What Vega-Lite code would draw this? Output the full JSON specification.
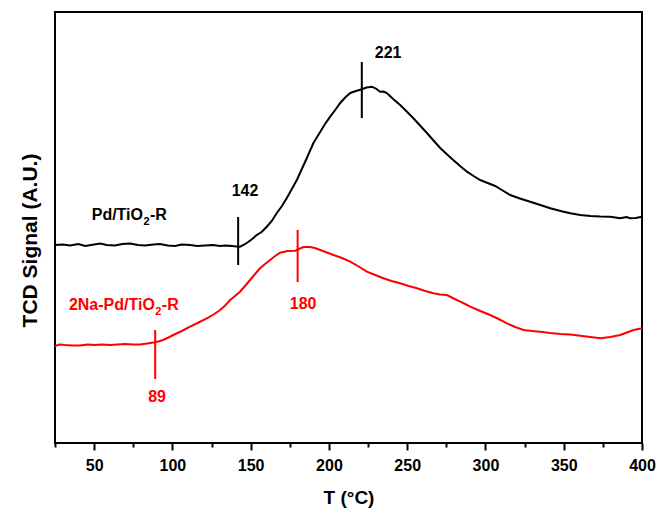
{
  "$schema": "https://vega.github.io/schema/vega-lite/v6.json",
  "width": 587,
  "height": 431,
  "autosize": "none",
  "padding": {"left": 55, "top": 12, "right": 14, "bottom": 67},
  "background": "white",
  "config": {
    "view": {"stroke": "black", "strokeWidth": 2},
    "font": "Liberation Sans",
    "text": {"font": "Liberation Sans", "fontWeight": "bold", "fontSize": 16}
  },
  "datasets": {
    "curves": [
      {"s":"black","T":25,"S":198},{"s":"black","T":30,"S":198.5},{"s":"black","T":34.6,"S":197.5},{"s":"black","T":40,"S":199},{"s":"black","T":44.2,"S":197},{"s":"black","T":50,"S":198.5},{"s":"black","T":53.8,"S":199.5},{"s":"black","T":58,"S":198},{"s":"black","T":63.4,"S":197.5},{"s":"black","T":68,"S":199},{"s":"black","T":72.9,"S":199.5},{"s":"black","T":78,"S":198},{"s":"black","T":82.5,"S":197.5},{"s":"black","T":88,"S":198.5},{"s":"black","T":92.1,"S":199},{"s":"black","T":97,"S":197.5},{"s":"black","T":101.7,"S":197},{"s":"black","T":106,"S":198.5},{"s":"black","T":111.3,"S":198},{"s":"black","T":116,"S":197},{"s":"black","T":120.9,"S":197.5},{"s":"black","T":126,"S":198},{"s":"black","T":130.5,"S":197},{"s":"black","T":134,"S":197.5},{"s":"black","T":138.1,"S":197},{"s":"black","T":141,"S":196.5},{"s":"black","T":143.2,"S":196.3},{"s":"black","T":146,"S":198.5},{"s":"black","T":148.4,"S":201},{"s":"black","T":151,"S":204},{"s":"black","T":153.9,"S":208},{"s":"black","T":157,"S":211},{"s":"black","T":160.3,"S":216.3},{"s":"black","T":163.5,"S":222},{"s":"black","T":166.7,"S":230},{"s":"black","T":170,"S":237},{"s":"black","T":173.1,"S":245},{"s":"black","T":176.3,"S":254},{"s":"black","T":179.5,"S":263},{"s":"black","T":182.7,"S":274},{"s":"black","T":185.9,"S":285},{"s":"black","T":190.1,"S":300},{"s":"black","T":194.4,"S":311},{"s":"black","T":197.5,"S":319},{"s":"black","T":200.8,"S":326.3},{"s":"black","T":204,"S":333},{"s":"black","T":207.2,"S":340},{"s":"black","T":210.4,"S":345.5},{"s":"black","T":213.6,"S":350},{"s":"black","T":217.3,"S":352},{"s":"black","T":221,"S":353.7},{"s":"black","T":224,"S":355.5},{"s":"black","T":227.4,"S":356.3},{"s":"black","T":230,"S":354.5},{"s":"black","T":232.7,"S":351.3},{"s":"black","T":235,"S":351.5},{"s":"black","T":237,"S":350},{"s":"black","T":241,"S":344},{"s":"black","T":245.5,"S":338},{"s":"black","T":249.7,"S":331.5},{"s":"black","T":253.8,"S":325},{"s":"black","T":258.2,"S":317.5},{"s":"black","T":262.6,"S":310},{"s":"black","T":266.8,"S":302.5},{"s":"black","T":271.1,"S":295},{"s":"black","T":275.2,"S":289},{"s":"black","T":279.4,"S":283},{"s":"black","T":283.8,"S":277},{"s":"black","T":288.2,"S":271.3},{"s":"black","T":292.4,"S":267},{"s":"black","T":296.6,"S":263},{"s":"black","T":301.4,"S":260},{"s":"black","T":306.2,"S":257},{"s":"black","T":311,"S":252.5},{"s":"black","T":315.8,"S":248},{"s":"black","T":322,"S":244.5},{"s":"black","T":328.6,"S":241.3},{"s":"black","T":335,"S":238},{"s":"black","T":341.4,"S":234.7},{"s":"black","T":348,"S":232},{"s":"black","T":354.2,"S":229.7},{"s":"black","T":360.6,"S":228},{"s":"black","T":367,"S":227},{"s":"black","T":373.4,"S":226.5},{"s":"black","T":379.7,"S":226.3},{"s":"black","T":386.1,"S":224.7},{"s":"black","T":390,"S":226},{"s":"black","T":392.5,"S":224.7},{"s":"black","T":396,"S":225},{"s":"black","T":400,"S":226.3},
      {"s":"red","T":25,"S":97},{"s":"red","T":28,"S":98.5},{"s":"red","T":31.4,"S":98},{"s":"red","T":36,"S":97.5},{"s":"red","T":41,"S":97.5},{"s":"red","T":46,"S":98.5},{"s":"red","T":50.6,"S":98},{"s":"red","T":55,"S":98.5},{"s":"red","T":60.2,"S":98},{"s":"red","T":65,"S":98.5},{"s":"red","T":69.7,"S":99},{"s":"red","T":75,"S":98.5},{"s":"red","T":79.3,"S":98.5},{"s":"red","T":84,"S":99.5},{"s":"red","T":87.8,"S":100.5},{"s":"red","T":91,"S":101.5},{"s":"red","T":94,"S":103},{"s":"red","T":97.5,"S":105.5},{"s":"red","T":100.6,"S":108},{"s":"red","T":106,"S":112},{"s":"red","T":111.3,"S":116.3},{"s":"red","T":116.7,"S":120.5},{"s":"red","T":122,"S":124.7},{"s":"red","T":126.3,"S":128.5},{"s":"red","T":130.5,"S":133},{"s":"red","T":133.7,"S":137.5},{"s":"red","T":136.9,"S":143},{"s":"red","T":140,"S":147},{"s":"red","T":143.2,"S":151.3},{"s":"red","T":146.4,"S":157},{"s":"red","T":149.6,"S":163},{"s":"red","T":152.8,"S":169},{"s":"red","T":156,"S":174.7},{"s":"red","T":159.2,"S":179},{"s":"red","T":162.4,"S":183},{"s":"red","T":165.6,"S":187},{"s":"red","T":168.8,"S":190.3},{"s":"red","T":173.6,"S":192},{"s":"red","T":178.4,"S":192.3},{"s":"red","T":183.7,"S":196},{"s":"red","T":188,"S":196},{"s":"red","T":191,"S":195},{"s":"red","T":194.4,"S":193},{"s":"red","T":198.7,"S":190.5},{"s":"red","T":202.9,"S":188},{"s":"red","T":208.3,"S":185},{"s":"red","T":213.6,"S":181.3},{"s":"red","T":219,"S":176.5},{"s":"red","T":224.2,"S":171.3},{"s":"red","T":229.5,"S":168},{"s":"red","T":234.8,"S":164.7},{"s":"red","T":240,"S":162},{"s":"red","T":245.5,"S":159.7},{"s":"red","T":250.9,"S":157},{"s":"red","T":256.2,"S":154.7},{"s":"red","T":261.5,"S":152},{"s":"red","T":266.8,"S":149.7},{"s":"red","T":271,"S":148.5},{"s":"red","T":275.4,"S":148},{"s":"red","T":279.7,"S":144.5},{"s":"red","T":283.9,"S":141.3},{"s":"red","T":287,"S":139},{"s":"red","T":290.3,"S":136.3},{"s":"red","T":296.7,"S":132},{"s":"red","T":303,"S":128},{"s":"red","T":308.4,"S":124},{"s":"red","T":313.7,"S":119.7},{"s":"red","T":319,"S":116},{"s":"red","T":324.3,"S":113},{"s":"red","T":329.7,"S":112},{"s":"red","T":335,"S":111.3},{"s":"red","T":341.4,"S":110},{"s":"red","T":347.8,"S":109},{"s":"red","T":354.2,"S":108.5},{"s":"red","T":360.6,"S":107.3},{"s":"red","T":367,"S":106},{"s":"red","T":373.4,"S":104.7},{"s":"red","T":379.7,"S":106},{"s":"red","T":386.1,"S":108},{"s":"red","T":390.4,"S":110.5},{"s":"red","T":394.6,"S":113},{"s":"red","T":400,"S":114.7}
    ],
    "markers": [
      {"s":"black","T":142,"lo":178,"hi":226},
      {"s":"black","T":221,"lo":325,"hi":381},
      {"s":"red","T":180,"lo":161,"hi":213},
      {"s":"red","T":89,"lo":64,"hi":113}
    ],
    "labels": [
      {"s":"black","T":146.4,"S":252,"text":"142","part":"num"},
      {"s":"black","T":237.8,"S":390.5,"text":"221","part":"num"},
      {"s":"red","T":183.5,"S":139,"text":"180","part":"num"},
      {"s":"red","T":90.2,"S":46,"text":"89","part":"num"},
      {"s":"black","T":81.2,"S":228,"text":"Pd/TiO","part":"main"},
      {"s":"black","T":81.2,"S":228,"text":"2","part":"sub"},
      {"s":"black","T":81.2,"S":228,"text":"-R","part":"tail"},
      {"s":"red","T":88.8,"S":138,"text":"2Na-Pd/TiO","part":"main"},
      {"s":"red","T":88.8,"S":138,"text":"2","part":"sub"},
      {"s":"red","T":88.8,"S":138,"text":"-R","part":"tail"}
    ]
  },
  "resolve": {"axis": {"x": "independent"}},
  "layer": [
    {
      "data": {"name": "curves"},
      "mark": {"type": "line", "strokeWidth": 2},
      "encoding": {
        "x": {
          "field": "T", "type": "quantitative",
          "scale": {"domain": [25, 400], "nice": false, "zero": false},
          "axis": {
            "orient": "bottom",
            "values": [50,100,150,200,250,300,350,400],
            "tickSize": 7,
            "tickColor": "black", "tickWidth": 2, "domain": false, "grid": false,
            "labelFont": "Liberation Sans", "labelFontWeight": "bold", "labelFontSize": 16,
            "labelColor": "black", "labelPadding": 7, "labelOverlap": false, "labelFlush": false,
            "title": "T (°C)", "titleFont": "Liberation Sans", "titleFontSize": 19,
            "titleFontWeight": "bold", "titleColor": "black", "titlePadding": 15
          }
        },
        "y": {
          "field": "S", "type": "quantitative",
          "scale": {"domain": [0, 431], "nice": false, "zero": false},
          "axis": {
            "ticks": false, "labels": false, "domain": false, "grid": false,
            "title": "TCD Signal (A.U.)", "titleFont": "Liberation Sans", "titleFontSize": 21,
            "titleFontWeight": "bold", "titleColor": "black", "titlePadding": 15, "titleY": 228
          }
        },
        "color": {"field": "s", "type": "nominal", "scale": null, "legend": null}
      }
    },
    {
      "data": {"name": "markers"},
      "mark": {"type": "rule", "strokeWidth": 2},
      "encoding": {
        "x": {
          "field": "T", "type": "quantitative",
          "axis": {
            "orient": "bottom",
            "values": [25,75,125,175,225,275,325,375],
            "tickSize": 4, "tickColor": "black", "tickWidth": 2,
            "domain": false, "grid": false, "labels": false, "title": null
          }
        },
        "y": {"field": "lo", "type": "quantitative"},
        "y2": {"field": "hi"},
        "color": {"field": "s", "type": "nominal", "scale": null, "legend": null}
      }
    },
    {
      "data": {"name": "labels"},
      "transform": [{"filter": "datum.part === 'num'"}],
      "mark": {"type": "text", "baseline": "middle", "align": "center"},
      "encoding": {
        "x": {"field": "T", "type": "quantitative", "axis": null},
        "y": {"field": "S", "type": "quantitative"},
        "text": {"field": "text"},
        "color": {"field": "s", "type": "nominal", "scale": null, "legend": null}
      }
    },
    {
      "data": {"name": "labels"},
      "transform": [{"filter": "datum.part === 'main'"}],
      "mark": {"type": "text", "baseline": "middle", "align": "right"},
      "encoding": {
        "x": {"field": "T", "type": "quantitative", "axis": null},
        "y": {"field": "S", "type": "quantitative"},
        "text": {"field": "text"},
        "color": {"field": "s", "type": "nominal", "scale": null, "legend": null}
      }
    },
    {
      "data": {"name": "labels"},
      "transform": [{"filter": "datum.part === 'sub'"}],
      "mark": {"type": "text", "baseline": "middle", "align": "left", "fontSize": 11, "dy": 7, "dx": 0.5},
      "encoding": {
        "x": {"field": "T", "type": "quantitative", "axis": null},
        "y": {"field": "S", "type": "quantitative"},
        "text": {"field": "text"},
        "color": {"field": "s", "type": "nominal", "scale": null, "legend": null}
      }
    },
    {
      "data": {"name": "labels"},
      "transform": [{"filter": "datum.part === 'tail'"}],
      "mark": {"type": "text", "baseline": "middle", "align": "left", "dx": 7},
      "encoding": {
        "x": {"field": "T", "type": "quantitative", "axis": null},
        "y": {"field": "S", "type": "quantitative"},
        "text": {"field": "text"},
        "color": {"field": "s", "type": "nominal", "scale": null, "legend": null}
      }
    }
  ]
}
